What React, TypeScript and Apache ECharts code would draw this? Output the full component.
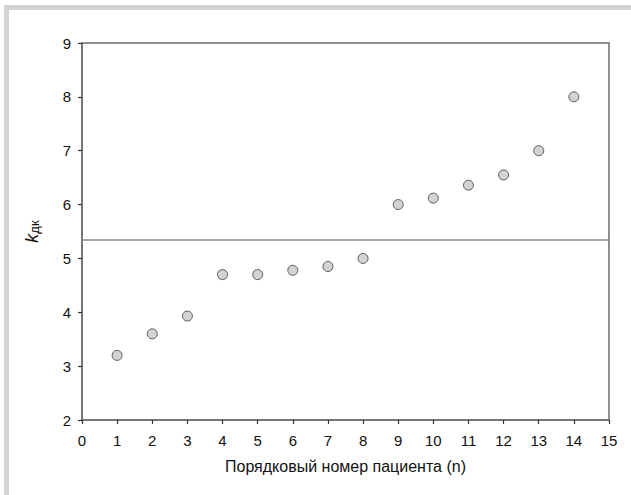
import React, { useEffect, useRef } from "react";
import * as echarts from "echarts";

const patientNumbers = [1, 2, 3, 4, 5, 6, 7, 8, 9, 10, 11, 12, 13, 14];
const kValues = [3.2, 3.6, 3.93, 4.7, 4.7, 4.78, 4.85, 5.0, 6.0, 6.12, 6.36, 6.55, 7.0, 8.0];
const thresholdValue = 5.34;
const xTitle = "Порядковый номер пациента (n)";

export default function App() {
  const ref = useRef<HTMLDivElement>(null);
  useEffect(() => {
    document.body.style.margin = "0";
    const chart = echarts.init(ref.current!, null, { renderer: "svg" });
    const axisColor = "#6e6e6e";
    const font = "'Liberation Sans', Arial, sans-serif";
    chart.setOption({
      animation: false,
      backgroundColor: "#ffffff",
      graphic: [
        { type: "rect", shape: { x: 4, y: 5, width: 627, height: 5 }, style: { fill: "#d3d3d3" }, silent: true },
        { type: "rect", shape: { x: 4, y: 5, width: 5, height: 490 }, style: { fill: "#d3d3d3" }, silent: true },
      ],
      grid: {
        left: 82,
        right: 22,
        top: 43,
        bottom: 75,
        show: true,
        borderColor: axisColor,
        borderWidth: 1.5,
      },
      xAxis: {
        type: "value",
        min: 0,
        max: 15,
        interval: 1,
        name: xTitle,
        nameLocation: "middle",
        nameGap: 38,
        nameTextStyle: { fontFamily: font, fontSize: 16, color: "#111" },
        axisLine: { show: true, lineStyle: { color: axisColor, width: 1.5 } },
        axisTick: { show: true, length: 4, lineStyle: { color: "#333", width: 1.2 } },
        axisLabel: { fontFamily: font, fontSize: 15, color: "#111", margin: 13 },
        splitLine: { show: false },
      },
      yAxis: {
        type: "value",
        min: 2,
        max: 9,
        interval: 1,
        name: "{a|k}{b|дк}",
        nameLocation: "middle",
        nameGap: 41,
        nameRotate: 90,
        nameTextStyle: {
          fontFamily: font,
          color: "#111",
          rich: {
            a: { fontFamily: font, fontSize: 18, fontStyle: "italic", color: "#111", lineHeight: 24, verticalAlign: "bottom" },
            b: { fontFamily: font, fontSize: 13, color: "#111", lineHeight: 24, verticalAlign: "bottom" },
          },
        },
        axisLine: { show: true, lineStyle: { color: axisColor, width: 1.5 } },
        axisTick: { show: true, length: 4, lineStyle: { color: "#333", width: 1.2 } },
        axisLabel: { fontFamily: font, fontSize: 15, color: "#111", margin: 11 },
        splitLine: { show: false },
      },
      series: [
        {
          type: "scatter",
          data: patientNumbers.map((n, i) => [n, kValues[i]]),
          symbol: "circle",
          symbolSize: 10,
          itemStyle: { color: "#c8c8c8", borderColor: "#3a3a3a", borderWidth: 1 },
          markLine: {
            silent: true,
            symbol: "none",
            label: { show: false },
            lineStyle: { color: "#8a8a8a", width: 1.5, type: "solid" },
            data: [{ yAxis: thresholdValue }],
          },
        },
      ],
    });
    return () => chart.dispose();
  }, []);
  return <div ref={ref} style={{ width: 631, height: 495 }} />;
}
